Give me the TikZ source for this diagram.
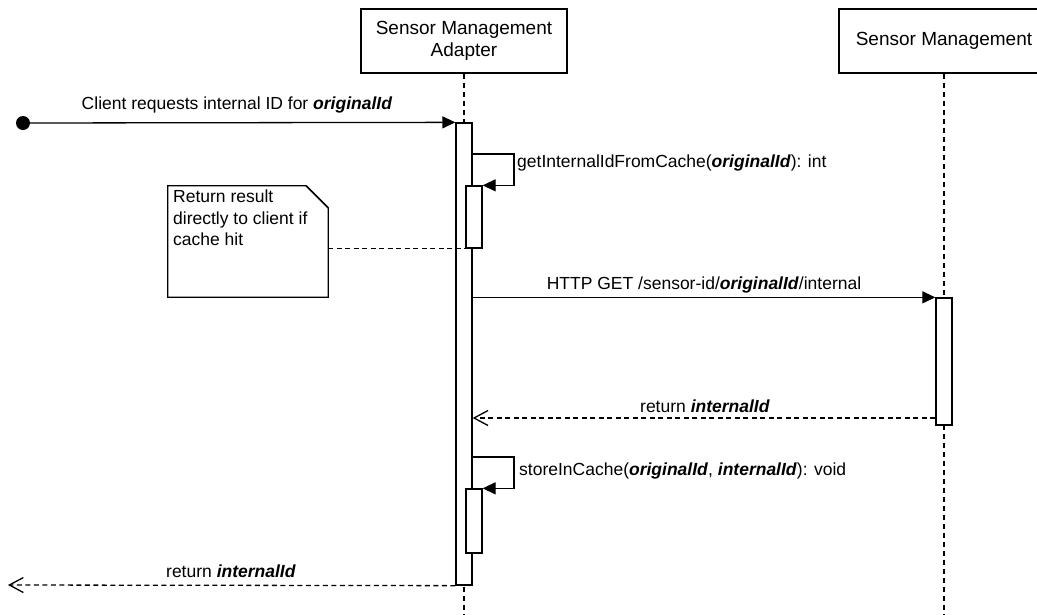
\documentclass[tikz,border=0pt]{standalone}
\usepackage{fontspec}
\setmainfont{Liberation Sans}
\usetikzlibrary{arrows.meta,calc}

\newcommand{\paramname}[1]{\textbf{\textit{#1}}}

\begin{document}
\begin{tikzpicture}[x=1pt,y=-1pt,
  every node/.style={font=\fontsize{17.5}{21.5}\selectfont, inner sep=0pt},
  actor/.style={draw, line width=1.3pt, fill=white, minimum width=206pt, minimum height=64pt, align=center,
    font=\fontsize{19}{22}\selectfont},
  activation/.style={draw, line width=1.3pt, fill=white, minimum width=16pt},
  lifeline/.style={line width=1.3pt, dash pattern=on 5pt off 4pt},
  call/.style={line width=1.3pt, -{Triangle[length=13pt,width=12pt]}},
  reply/.style={line width=1.3pt, dash pattern=on 5pt off 3.5pt, -{Straight Barb[length=14pt,width=15pt,line width=1.3pt]}},
  notelink/.style={line width=1.3pt, dash pattern=on 5pt off 3.5pt},
  msg/.style={anchor=center}
]
\useasboundingbox (0,0) rectangle (1037,614);
\clip (0,0) rectangle (1037,614);

% participants
\node[actor] (adapter) at (464,41) {Sensor Management\\Adapter};
\node[actor, minimum width=210pt] (mgmt) at (944,41) {Sensor Management};

% lifelines
\coordinate (adapterEnd) at (464,614);
\coordinate (mgmtEnd) at (944,614);
\draw[lifeline] (adapter.south) -- (adapterEnd);
\draw[lifeline] (mgmt.south) -- (mgmtEnd);

% activation bars
\node[activation, minimum height=462pt] (barA) at (464,354) {};
\node[activation, minimum height=127pt] (barB) at (944,361.5) {};
\node[activation, minimum height=62pt] (cache1) at (474,217) {};
\node[activation, minimum height=64pt] (cache2) at (474,521) {};

% incoming client request
\node[circle, fill=black, minimum size=14pt] (client) at (23,123) {};
\draw[call] (client.center) -- (barA.north west);
\node[msg] (lblReq) at (237,105) {Client requests internal ID for \paramname{originalId}};

% cache lookup (self call)
\coordinate (loop1) at (514,154);
\draw[call] (barA.east |- loop1) -- (loop1) |- (cache1.north east);
\node[anchor=west] (lblGet) at (517,163) {getInternalIdFromCache(\paramname{originalId}): int};

% note about cache hit
\node[minimum width=160pt, minimum height=111pt] (note) at (248,241.5) {};
\draw[line width=1.3pt, fill=white]
  (note.north west) -- ($(note.north east)+(-22,0)$) -- ($(note.north east)+(0,22)$)
  -- (note.south east) -- (note.south west) -- cycle;
\draw[line width=1.3pt] ($(note.north east)+(-22,0)$) -- ($(note.north east)+(0,22)$);
\node[anchor=north west, align=left] (noteText) at (173,190)
  {Return result\\directly to client if\\cache hit};
\draw[notelink] (note.east |- cache1.south) -- (cache1.south west);

% request to Sensor Management
\draw[call] (barA.east |- barB.north) -- (barB.north west);
\node[msg] (lblHttp) at (704,285) {HTTP GET /sensor-id/\paramname{originalId}/internal};

% response
\coordinate (resp) at (944,418);
\draw[reply] (barB.west |- resp) -- (barA.east |- resp);
\node[msg] (lblResp) at (705,406) {return \paramname{internalId}};

% store in cache (self call)
\coordinate (loop2) at (514,457);
\draw[call] (barA.east |- loop2) -- (loop2) |- (cache2.north east);
\node[anchor=west] (lblStore) at (519,471) {storeInCache(\paramname{originalId}, \paramname{internalId}): void};

% reply to client
\coordinate (clientEnd) at (8,585);
\draw[reply] (barA.south west) -- (clientEnd);
\node[msg] (lblRet) at (231,571) {return \paramname{internalId}};
\end{tikzpicture}
\end{document}
